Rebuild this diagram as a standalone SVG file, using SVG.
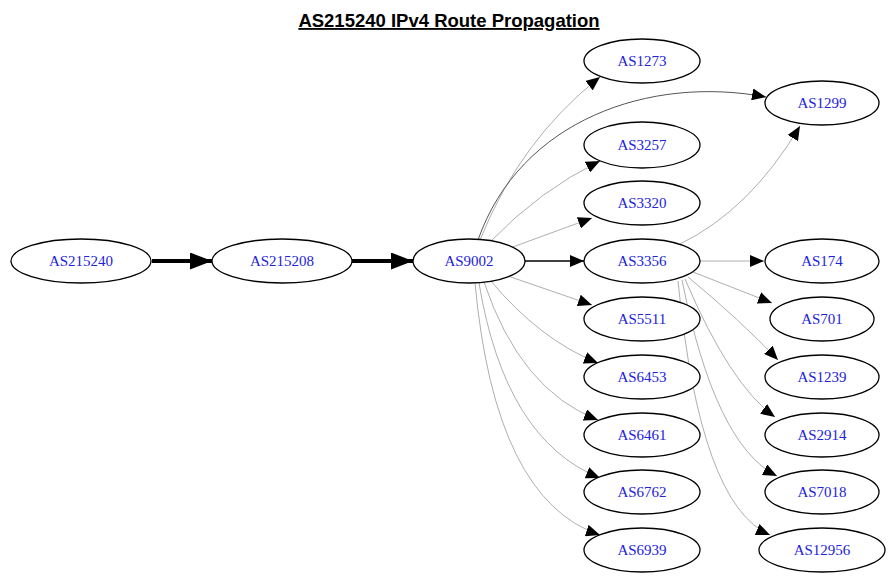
<svg xmlns="http://www.w3.org/2000/svg" width="892" height="581" viewBox="0 0 892 581">
<defs>
<marker id="a" viewBox="0 0 10 10" refX="10" refY="5" markerWidth="14" markerHeight="12" markerUnits="userSpaceOnUse" orient="auto" preserveAspectRatio="none"><path d="M0,0L10,5L0,10z" fill="#000"/></marker>
<marker id="b" viewBox="0 0 10 10" refX="10" refY="5" markerWidth="22" markerHeight="17" markerUnits="userSpaceOnUse" orient="auto" preserveAspectRatio="none"><path d="M0,0L10,5L0,10z" fill="#000"/></marker>
</defs>
<style>
ellipse{fill:#fff;stroke:#000;stroke-width:1.3}
.n text{font-family:"Liberation Serif",serif;font-size:15px;fill:#2222dd;text-anchor:middle}
#edges path{fill:none;stroke:#999;stroke-width:0.8;marker-end:url(#a)}
#edges path.t{stroke:#000;stroke-width:4;marker-end:url(#b)}
#edges path.m{stroke:#000;stroke-width:1.5}
#edges path.d{stroke:#555;stroke-width:1}
.title{font-family:"Liberation Sans",sans-serif;font-size:18.5px;font-weight:bold;text-anchor:middle;text-decoration:underline}
</style>
<rect width="892" height="581" fill="#fff"/>
<text class="title" x="449" y="27">AS215240 IPv4 Route Propagation</text>
<g id="edges">
<path class="t" d="M152,261L212,261"/>
<path class="t" d="M352,261L413,261"/>
<path class="m" d="M525,261L584,261"/>
<path d="M480,240Q520,140 600,77"/>
<path class="d" d="M478,240C520,120 650,75 766,97"/>
<path d="M490,242Q540,190 600,161"/>
<path d="M510,248L592,218"/>
<path d="M505,275L592,305"/>
<path d="M490,280Q540,340 598,363"/>
<path d="M484,282Q520,390 598,420"/>
<path d="M479,283Q505,440 600,478"/>
<path d="M475,283Q495,500 600,535"/>
<path d="M680,244Q750,210 800,126"/>
<path d="M700,261L764,261"/>
<path d="M693,272L772,303"/>
<path d="M688,277Q740,320 778,360"/>
<path d="M685,279Q730,385 775,417"/>
<path d="M682,280Q715,445 777,476"/>
<path d="M678,281Q700,505 770,535"/>
</g>
<g id="AS215240" class="n"><ellipse cx="81" cy="261" rx="70" ry="22"/><text x="81" y="266">AS215240</text></g>
<g id="AS215208" class="n"><ellipse cx="282" cy="261" rx="70" ry="22"/><text x="282" y="266">AS215208</text></g>
<g id="AS9002" class="n"><ellipse cx="469" cy="261" rx="56" ry="22"/><text x="469" y="266">AS9002</text></g>
<g id="AS1273" class="n"><ellipse cx="642" cy="61" rx="58" ry="22"/><text x="642" y="66">AS1273</text></g>
<g id="AS3257" class="n"><ellipse cx="642" cy="145" rx="58" ry="23"/><text x="642" y="150">AS3257</text></g>
<g id="AS3320" class="n"><ellipse cx="642" cy="203" rx="58" ry="22"/><text x="642" y="208">AS3320</text></g>
<g id="AS3356" class="n"><ellipse cx="642" cy="261" rx="58" ry="22"/><text x="642" y="266">AS3356</text></g>
<g id="AS5511" class="n"><ellipse cx="642" cy="319" rx="58" ry="22"/><text x="642" y="324">AS5511</text></g>
<g id="AS6453" class="n"><ellipse cx="642" cy="377" rx="58" ry="22"/><text x="642" y="382">AS6453</text></g>
<g id="AS6461" class="n"><ellipse cx="642" cy="435" rx="58" ry="22"/><text x="642" y="440">AS6461</text></g>
<g id="AS6762" class="n"><ellipse cx="642" cy="492" rx="58" ry="22"/><text x="642" y="497">AS6762</text></g>
<g id="AS6939" class="n"><ellipse cx="642" cy="550" rx="58" ry="22"/><text x="642" y="555">AS6939</text></g>
<g id="AS1299" class="n"><ellipse cx="822" cy="103" rx="57" ry="22"/><text x="822" y="108">AS1299</text></g>
<g id="AS174" class="n"><ellipse cx="822" cy="261" rx="57" ry="22"/><text x="822" y="266">AS174</text></g>
<g id="AS701" class="n"><ellipse cx="822" cy="319" rx="52" ry="22"/><text x="822" y="324">AS701</text></g>
<g id="AS1239" class="n"><ellipse cx="822" cy="377" rx="57" ry="22"/><text x="822" y="382">AS1239</text></g>
<g id="AS2914" class="n"><ellipse cx="822" cy="435" rx="57" ry="22"/><text x="822" y="440">AS2914</text></g>
<g id="AS7018" class="n"><ellipse cx="822" cy="492" rx="57" ry="22"/><text x="822" y="497">AS7018</text></g>
<g id="AS12956" class="n"><ellipse cx="822" cy="550" rx="63" ry="22"/><text x="822" y="555">AS12956</text></g>
</svg>
